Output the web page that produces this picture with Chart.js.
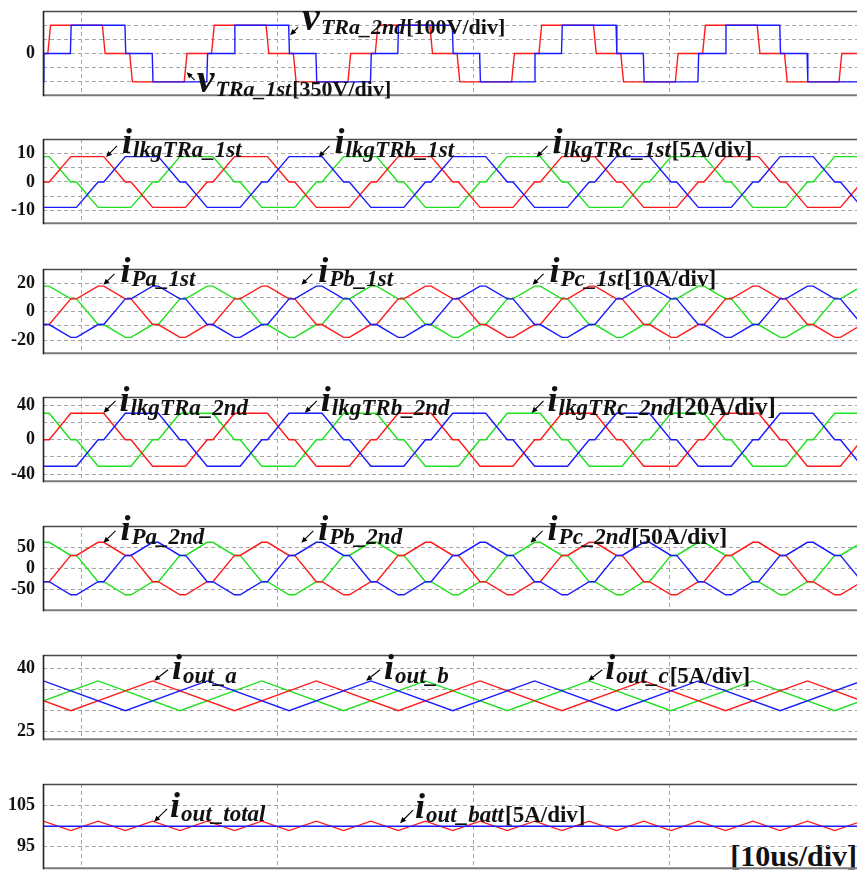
<!DOCTYPE html>
<html>
<head>
<meta charset="utf-8">
<script src="https://cdn.jsdelivr.net/npm/chart.js@4.4.1/dist/chart.umd.min.js"></script>
<style>
  html, body { margin: 0; padding: 0; background: #fff; }
  body { position: relative; width: 857px; height: 875px; overflow: hidden; }
  canvas { position: absolute; left: 0; }
  #timeDiv {
    position: absolute; right: 0; top: 839px;
    font: bold 30px "Liberation Serif", "Times New Roman", serif;
    line-height: 33px; color: #111; background: #fff; padding-left: 4px;
  }
</style>
</head>
<body>
<div id="timeDiv">[10us/div]</div>
<script>
// ---- switching instants (us): 1st-side edges interleaved with 2nd-side edges ----
const tSwitchUs = [
  -3.015, -1.915, -1.625, -0.525, -0.235, 0.865, 1.155, 2.255, 2.545, 3.645, 3.935, 5.035,
  5.325, 6.425, 6.715, 7.815, 8.105, 9.205, 9.495, 10.595, 10.885, 11.985, 12.275, 13.375,
  13.665, 14.765, 15.055, 16.155, 16.445, 17.545, 17.835, 18.935, 19.225, 20.325, 20.615, 21.715,
  22.005, 23.105, 23.395, 24.495, 24.785, 25.885, 26.175, 27.275, 27.565, 28.665, 28.955, 30.055,
  30.345, 31.445, 31.735, 32.835, 33.125, 34.225, 34.515, 35.615, 35.905, 37.005, 37.295, 38.395,
  38.685, 39.785
];

// ---- transformer voltages: edge times (us) and level after each edge (V) ----
const vTRa1stEdgeUs = [-5.795, -3.015, -1.625, 1.155, 2.545, 5.325, 6.715, 9.495, 10.885, 13.665, 15.055, 17.835,
  19.225, 22.005, 23.395, 26.175, 27.565, 30.345, 31.735, 34.515, 35.905, 38.685, 40.075];
const vTRa1stLevel = [-700, 0, 700, 0, -700, 0, 700, 0, -700, 0, 700, 0,
  -700, 0, 700, 0, -700, 0, 700, 0, -700, 0, 700];
const vTRa2ndEdgeUs = [-4.695, -1.915, -0.525, 2.255, 3.645, 6.425, 7.815, 10.595, 11.985, 14.765, 16.155, 18.935,
  20.325, 23.105, 24.495, 27.275, 28.665, 31.445, 32.835, 35.615, 37.005, 39.785];
const vTRa2ndLevel = [-200, 0, 200, 0, -200, 0, 200, 0, -200, 0, 200, 0,
  -200, 0, 200, 0, -200, 0, 200, 0, -200, 0];

// ---- leakage currents, 1st side (A) at tSwitchUs ----
const ilkgTRa1st = [-9, 0,
  0, 9, 9, 9, 9, 0, 0, -9, -9, -9, -9, 0,
  0, 9, 9, 9, 9, 0, 0, -9, -9, -9, -9, 0,
  0, 9, 9, 9, 9, 0, 0, -9, -9, -9, -9, 0,
  0, 9, 9, 9, 9, 0, 0, -9, -9, -9, -9, 0,
  0, 9, 9, 9, 9, 0, 0, -9, -9, -9, -9, 0];
const ilkgTRb1st = [0, -9,
  -9, -9, -9, 0, 0, 9, 9, 9, 9, 0, 0, -9,
  -9, -9, -9, 0, 0, 9, 9, 9, 9, 0, 0, -9,
  -9, -9, -9, 0, 0, 9, 9, 9, 9, 0, 0, -9,
  -9, -9, -9, 0, 0, 9, 9, 9, 9, 0, 0, -9,
  -9, -9, -9, 0, 0, 9, 9, 9, 9, 0, 0, -9];
const ilkgTRc1st = [9, 9,
  9, 0, 0, -9, -9, -9, -9, 0, 0, 9, 9, 9,
  9, 0, 0, -9, -9, -9, -9, 0, 0, 9, 9, 9,
  9, 0, 0, -9, -9, -9, -9, 0, 0, 9, 9, 9,
  9, 0, 0, -9, -9, -9, -9, 0, 0, 9, 9, 9,
  9, 0, 0, -9, -9, -9, -9, 0, 0, 9, 9, 9];

// ---- primary phase currents, 1st side (A) ----
const iPa1st = [-18, -9,
  -9, 9, 9, 18, 18, 9, 9, -9, -9, -18, -18, -9,
  -9, 9, 9, 18, 18, 9, 9, -9, -9, -18, -18, -9,
  -9, 9, 9, 18, 18, 9, 9, -9, -9, -18, -18, -9,
  -9, 9, 9, 18, 18, 9, 9, -9, -9, -18, -18, -9,
  -9, 9, 9, 18, 18, 9, 9, -9, -9, -18, -18, -9];
const iPb1st = [9, -9,
  -9, -18, -18, -9, -9, 9, 9, 18, 18, 9, 9, -9,
  -9, -18, -18, -9, -9, 9, 9, 18, 18, 9, 9, -9,
  -9, -18, -18, -9, -9, 9, 9, 18, 18, 9, 9, -9,
  -9, -18, -18, -9, -9, 9, 9, 18, 18, 9, 9, -9,
  -9, -18, -18, -9, -9, 9, 9, 18, 18, 9, 9, -9];
const iPc1st = [9, 18,
  18, 9, 9, -9, -9, -18, -18, -9, -9, 9, 9, 18,
  18, 9, 9, -9, -9, -18, -18, -9, -9, 9, 9, 18,
  18, 9, 9, -9, -9, -18, -18, -9, -9, 9, 9, 18,
  18, 9, 9, -9, -9, -18, -18, -9, -9, 9, 9, 18,
  18, 9, 9, -9, -9, -18, -18, -9, -9, 9, 9, 18];

// ---- leakage currents, 2nd side (A) ----
const ilkgTRa2nd = [-31, 0,
  0, 31, 31, 31, 31, 0, 0, -31, -31, -31, -31, 0,
  0, 31, 31, 31, 31, 0, 0, -31, -31, -31, -31, 0,
  0, 31, 31, 31, 31, 0, 0, -31, -31, -31, -31, 0,
  0, 31, 31, 31, 31, 0, 0, -31, -31, -31, -31, 0,
  0, 31, 31, 31, 31, 0, 0, -31, -31, -31, -31, 0];
const ilkgTRb2nd = [0, -31,
  -31, -31, -31, 0, 0, 31, 31, 31, 31, 0, 0, -31,
  -31, -31, -31, 0, 0, 31, 31, 31, 31, 0, 0, -31,
  -31, -31, -31, 0, 0, 31, 31, 31, 31, 0, 0, -31,
  -31, -31, -31, 0, 0, 31, 31, 31, 31, 0, 0, -31,
  -31, -31, -31, 0, 0, 31, 31, 31, 31, 0, 0, -31];
const ilkgTRc2nd = [31, 31,
  31, 0, 0, -31, -31, -31, -31, 0, 0, 31, 31, 31,
  31, 0, 0, -31, -31, -31, -31, 0, 0, 31, 31, 31,
  31, 0, 0, -31, -31, -31, -31, 0, 0, 31, 31, 31,
  31, 0, 0, -31, -31, -31, -31, 0, 0, 31, 31, 31,
  31, 0, 0, -31, -31, -31, -31, 0, 0, 31, 31, 31];

// ---- primary phase currents, 2nd side (A) ----
const iPa2nd = [-63, -31.5,
  -31.5, 31.5, 31.5, 63, 63, 31.5, 31.5, -31.5, -31.5, -63, -63, -31.5,
  -31.5, 31.5, 31.5, 63, 63, 31.5, 31.5, -31.5, -31.5, -63, -63, -31.5,
  -31.5, 31.5, 31.5, 63, 63, 31.5, 31.5, -31.5, -31.5, -63, -63, -31.5,
  -31.5, 31.5, 31.5, 63, 63, 31.5, 31.5, -31.5, -31.5, -63, -63, -31.5,
  -31.5, 31.5, 31.5, 63, 63, 31.5, 31.5, -31.5, -31.5, -63, -63, -31.5];
const iPb2nd = [31.5, -31.5,
  -31.5, -63, -63, -31.5, -31.5, 31.5, 31.5, 63, 63, 31.5, 31.5, -31.5,
  -31.5, -63, -63, -31.5, -31.5, 31.5, 31.5, 63, 63, 31.5, 31.5, -31.5,
  -31.5, -63, -63, -31.5, -31.5, 31.5, 31.5, 63, 63, 31.5, 31.5, -31.5,
  -31.5, -63, -63, -31.5, -31.5, 31.5, 31.5, 63, 63, 31.5, 31.5, -31.5,
  -31.5, -63, -63, -31.5, -31.5, 31.5, 31.5, 63, 63, 31.5, 31.5, -31.5];
const iPc2nd = [31.5, 63,
  63, 31.5, 31.5, -31.5, -31.5, -63, -63, -31.5, -31.5, 31.5, 31.5, 63,
  63, 31.5, 31.5, -31.5, -31.5, -63, -63, -31.5, -31.5, 31.5, 31.5, 63,
  63, 31.5, 31.5, -31.5, -31.5, -63, -63, -31.5, -31.5, 31.5, 31.5, 63,
  63, 31.5, 31.5, -31.5, -31.5, -63, -63, -31.5, -31.5, 31.5, 31.5, 63,
  63, 31.5, 31.5, -31.5, -31.5, -63, -63, -31.5, -31.5, 31.5, 31.5, 63];

// ---- output-side instants (us) and currents (A); null = no corner there ----
const tOutUs = [-6.085, -4.695, -3.305, -1.915, -0.525, 0.865, 2.255, 3.645, 5.035, 6.425, 7.815, 9.205,
  10.595, 11.985, 13.375, 14.765, 16.155, 17.545, 18.935, 20.325, 21.715, 23.105, 24.495, 25.885,
  27.275, 28.665, 30.055, 31.445, 32.835, 34.225, 35.615, 37.005, 38.395, 39.785, 41.175, 42.565];
const ioutA = [null, 37.0, null, null, 29.9, null, null, 37.0, null, null, 29.9, null,
  null, 37.0, null, null, 29.9, null, null, 37.0, null, null, 29.9, null,
  null, 37.0, null, null, 29.9, null, null, 37.0, null, null, 29.9, null];
const ioutB = [29.9, null, null, 37.0, null, null, 29.9, null, null, 37.0, null, null,
  29.9, null, null, 37.0, null, null, 29.9, null, null, 37.0, null, null,
  29.9, null, null, 37.0, null, null, 29.9, null, null, 37.0, null, null];
const ioutC = [null, null, 29.9, null, null, 37.0, null, null, 29.9, null, null, 37.0,
  null, null, 29.9, null, null, 37.0, null, null, 29.9, null, null, 37.0,
  null, null, 29.9, null, null, 37.0, null, null, 29.9, null, null, 37.0];
const ioutTotal = [98.8, 101.1, 98.8, 101.1, 98.8, 101.1, 98.8, 101.1, 98.8, 101.1, 98.8, 101.1,
  98.8, 101.1, 98.8, 101.1, 98.8, 101.1, 98.8, 101.1, 98.8, 101.1, 98.8, 101.1,
  98.8, 101.1, 98.8, 101.1, 98.8, 101.1, 98.8, 101.1, 98.8, 101.1, 98.8, 101.1];
const ioutBatt = [99.85, 99.85, 99.85, 99.85, 99.85, 99.85, 99.85, 99.85, 99.85, 99.85, 99.85, 99.85,
  99.85, 99.85, 99.85, 99.85, 99.85, 99.85, 99.85, 99.85, 99.85, 99.85, 99.85, 99.85,
  99.85, 99.85, 99.85, 99.85, 99.85, 99.85, 99.85, 99.85, 99.85, 99.85, 99.85, 99.85];

// ---- axis grids and tick labels ----
const timeGridUs = [0, 10, 20, 30];
const TIME_MIN_US = -1.94, TIME_MAX_US = 39.53;

// ---- layout / style ----
const CANVAS_W = 857, PLOT_H = 95, PAD_T = 28, PAD_B = 8, AXIS_W = 43;
const RED = '#ff1a1a', BLUE = '#1a1aff', GREEN = '#1ee01e';
const LINE_W = 1.4;
const GRID_COLOR = '#a6a6a6';
const FONT = '"Liberation Serif", "Times New Roman", serif';

function pts(ts, vs) {
  const out = [];
  ts.forEach((t, i) => { if (vs[i] !== null) out.push({ x: t, y: vs[i] }); });
  return out;
}
// square wave with a finite edge ramp (us)
function edgePts(edges, levels, ramp) {
  const out = [{ x: edges[0], y: levels[0] }];
  for (let i = 1; i < edges.length; i++) {
    out.push({ x: edges[i] - ramp / 2, y: levels[i - 1] });
    out.push({ x: edges[i] + ramp / 2, y: levels[i] });
  }
  return out;
}
function ds(data, color, order, axis) {
  return { data, borderColor: color, borderWidth: LINE_W, pointRadius: 0, showLine: true,
    tension: 0, order, yAxisID: axis || 'y' };
}

const framePlugin = {
  id: 'frame',
  afterDatasetsDraw(chart) {
    const { left, top, right, bottom } = chart.chartArea;
    const ctx = chart.ctx;
    ctx.save();
    ctx.lineWidth = 1.5; ctx.strokeStyle = '#4a4a4a';
    ctx.beginPath(); ctx.moveTo(left, top + 0.5); ctx.lineTo(right + 2, top + 0.5); ctx.stroke();
    ctx.lineWidth = 2; ctx.strokeStyle = '#7a7a7a';
    ctx.beginPath(); ctx.moveTo(left, bottom); ctx.lineTo(right + 2, bottom); ctx.stroke();
    ctx.lineWidth = 1.6; ctx.strokeStyle = '#222';
    ctx.beginPath(); ctx.moveTo(left + 0.5, top); ctx.lineTo(left + 0.5, bottom + 1); ctx.stroke();
    ctx.restore();
  }
};

const waveLabelPlugin = {
  id: 'waveLabels',
  afterDraw(chart, args, opts) {
    const ctx = chart.ctx;
    (opts.items || []).forEach(it => {
      const px = chart.scales.x.getPixelForValue(it.t);
      const py = chart.scales[it.axis || 'y'].getPixelForValue(it.v);
      const tx = px + it.tail[0], ty = py + it.tail[1];
      const ang = Math.atan2(py - ty, px - tx), hl = 6.5, hw = 0.42;
      const subSize = it.subSize || opts.subSize;
      ctx.save();
      ctx.strokeStyle = '#000'; ctx.fillStyle = '#000'; ctx.lineWidth = 1.1;
      ctx.beginPath(); ctx.moveTo(tx, ty);
      ctx.lineTo(px - Math.cos(ang) * hl * 0.8, py - Math.sin(ang) * hl * 0.8); ctx.stroke();
      ctx.beginPath(); ctx.moveTo(px, py);
      ctx.lineTo(px - hl * Math.cos(ang - hw), py - hl * Math.sin(ang - hw));
      ctx.lineTo(px - hl * Math.cos(ang + hw), py - hl * Math.sin(ang + hw));
      ctx.closePath(); ctx.fill();
      let x = px + it.dx;
      const yb = py + it.dy;
      ctx.textAlign = 'left'; ctx.textBaseline = 'alphabetic'; ctx.fillStyle = '#111';
      ctx.font = 'italic bold ' + (it.mainSize || opts.mainSize) + 'px ' + FONT;
      ctx.fillText(it.main, x, yb);
      x += ctx.measureText(it.main).width + 1;
      ctx.font = 'italic bold ' + subSize + 'px ' + FONT;
      ctx.fillText(it.sub, x, yb + opts.subDrop);
      x += ctx.measureText(it.sub).width + 1;
      if (it.unit) {
        ctx.font = 'bold ' + (it.unitSize || subSize) + 'px ' + FONT;
        ctx.fillText(it.unit, x, yb + opts.subDrop);
      }
      ctx.restore();
    });
  }
};

function makePanel(p) {
  const cv = document.createElement('canvas');
  cv.width = CANVAS_W; cv.height = PLOT_H + PAD_T + PAD_B;
  cv.style.top = (p.top - PAD_T) + 'px';
  cv.style.width = CANVAS_W + 'px'; cv.style.height = cv.height + 'px';
  document.body.appendChild(cv);
  const scales = {
    x: {
      type: 'linear', min: TIME_MIN_US, max: TIME_MAX_US,
      afterBuildTicks: s => { s.ticks = timeGridUs.map(v => ({ value: v })); },
      afterFit: s => { s.height = 0; },
      grid: { color: GRID_COLOR, lineWidth: 1, drawTicks: false },
      border: { display: false, dash: [4, 3] },
      ticks: { display: false }
    },
    y: {
      type: 'linear', min: p.yRange[0], max: p.yRange[1],
      afterBuildTicks: s => { s.ticks = p.grid.map(v => ({ value: v })); },
      afterFit: s => { s.width = AXIS_W; },
      grid: { color: GRID_COLOR, lineWidth: 1, drawTicks: false },
      border: { display: false, dash: [4, 3] },
      ticks: {
        autoSkip: false, padding: 8, color: '#111',
        font: { family: FONT, size: 18, weight: 'bold' },
        callback: v => (p.labels.includes(v) ? String(v) : '')
      }
    }
  };
  if (p.y2Range) scales.y2 = { type: 'linear', display: false, min: p.y2Range[0], max: p.y2Range[1] };
  new Chart(cv, {
    type: 'scatter',
    data: { datasets: p.datasets },
    options: {
      responsive: false, animation: false, events: [],
      layout: { padding: { top: PAD_T, bottom: PAD_B, left: 0, right: 0 } },
      plugins: {
        legend: { display: false }, tooltip: { enabled: false },
        waveLabels: { items: p.notes, mainSize: 36, subSize: 23, subDrop: 4 }
      },
      scales
    },
    plugins: [framePlugin, waveLabelPlugin]
  });
}

const panels = [
  {
    top: 11, yRange: [-1028, 1050], y2Range: [-293.75, 300],
    grid: [-700, -350, 0, 350, 700], labels: [0],
    datasets: [
      ds(edgePts(vTRa2ndEdgeUs, vTRa2ndLevel, 0.04), BLUE, 0, 'y2'),
      ds(edgePts(vTRa1stEdgeUs, vTRa1stLevel, 0.14), RED, 1)
    ],
    notes: [
      { t: 10.65, v: 453, tail: [8, -8], dx: 12, dy: -5, main: 'v', mainSize: 40, subSize: 22, sub: 'TRa_2nd', unit: '[100V/div]' },
      { t: 5.38, v: -459, tail: [8, 8], dx: 10, dy: 20, main: 'v', mainSize: 40, subSize: 22, sub: 'TRa_1st', unit: '[350V/div]' }
    ]
  },
  {
    top: 139, yRange: [-14.62, 15.25], grid: [-10, -5, 0, 5, 10], labels: [-10, 0, 10],
    datasets: [
      ds(pts(tSwitchUs, ilkgTRb1st), BLUE, 0),
      ds(pts(tSwitchUs, ilkgTRa1st), RED, 1),
      ds(pts(tSwitchUs, ilkgTRc1st), GREEN, 2)
    ],
    notes: [
      { t: 1.27, v: 8.87, tail: [11, -11], dx: 16, dy: -4, main: 'i', sub: 'lkgTRa_1st' },
      { t: 12.1, v: 8.87, tail: [11, -11], dx: 16, dy: -4, main: 'i', sub: 'lkgTRb_1st' },
      { t: 23.2, v: 8.87, tail: [11, -11], dx: 16, dy: -4, main: 'i', sub: 'lkgTRc_1st', unit: '[5A/div]' }
    ]
  },
  {
    top: 269, yRange: [-29.1, 30.0], grid: [-20, -10, 0, 10, 20], labels: [-20, 0, 20],
    datasets: [
      ds(pts(tSwitchUs, iPb1st), BLUE, 0),
      ds(pts(tSwitchUs, iPa1st), RED, 1),
      ds(pts(tSwitchUs, iPc1st), GREEN, 2)
    ],
    notes: [
      { t: 1.14, v: 18.87, tail: [11, -11], dx: 17, dy: -3, main: 'i', sub: 'Pa_1st' },
      { t: 11.22, v: 18.87, tail: [11, -11], dx: 17, dy: -3, main: 'i', sub: 'Pb_1st' },
      { t: 23.0, v: 18.87, tail: [11, -11], dx: 17, dy: -3, main: 'i', sub: 'Pc_1st', unit: '[10A/div]' }
    ]
  },
  {
    top: 397, yRange: [-48.4, 50.0], grid: [-40, -20, 0, 20, 40], labels: [-40, 0, 40],
    datasets: [
      ds(pts(tSwitchUs, ilkgTRb2nd), BLUE, 0),
      ds(pts(tSwitchUs, ilkgTRa2nd), RED, 1),
      ds(pts(tSwitchUs, ilkgTRc2nd), GREEN, 2)
    ],
    notes: [
      { t: 1.14, v: 31.4, tail: [12, -12], dx: 16, dy: -2, main: 'i', sub: 'lkgTRa_2nd' },
      { t: 11.4, v: 31.4, tail: [12, -12], dx: 16, dy: -2, main: 'i', sub: 'lkgTRb_2nd' },
      { t: 22.95, v: 31.4, tail: [12, -12], dx: 16, dy: -2, main: 'i', sub: 'lkgTRc_2nd', unit: '[20A/div]', unitSize: 25 }
    ]
  },
  {
    top: 526, yRange: [-99.9, 102.1], grid: [-50, 0, 50], labels: [-50, 0, 50],
    datasets: [
      ds(pts(tSwitchUs, iPb2nd), BLUE, 0),
      ds(pts(tSwitchUs, iPa2nd), RED, 1),
      ds(pts(tSwitchUs, iPc2nd), GREEN, 2)
    ],
    notes: [
      { t: 1.14, v: 61.7, tail: [12, -12], dx: 17, dy: -3, main: 'i', sub: 'Pa_2nd' },
      { t: 11.22, v: 61.7, tail: [12, -12], dx: 17, dy: -3, main: 'i', sub: 'Pb_2nd' },
      { t: 22.9, v: 61.7, tail: [12, -12], dx: 17, dy: -3, main: 'i', sub: 'Pc_2nd', unit: '[50A/div]', unitSize: 24 }
    ]
  },
  {
    top: 655, yRange: [23.1, 43.17], grid: [25, 30, 35, 40], labels: [25, 40],
    datasets: [
      ds(pts(tOutUs, ioutB), BLUE, 0),
      ds(pts(tOutUs, ioutA), RED, 1),
      ds(pts(tOutUs, ioutC), GREEN, 2)
    ],
    notes: [
      { t: 3.72, v: 37.04, tail: [14, -11], dx: 18, dy: -2, main: 'i', sub: 'out_a' },
      { t: 14.52, v: 37.04, tail: [14, -11], dx: 18, dy: -2, main: 'i', sub: 'out_b' },
      { t: 25.84, v: 37.04, tail: [14, -11], dx: 17, dy: -2, main: 'i', sub: 'out_c', unit: '[5A/div]' }
    ]
  },
  {
    top: 784, yRange: [89.7, 110.09], grid: [95, 105], labels: [95, 105],
    datasets: [
      ds(pts(tOutUs, ioutBatt), BLUE, 0),
      ds(pts(tOutUs, ioutTotal), RED, 1)
    ],
    notes: [
      { t: 3.72, v: 100.92, tail: [13, -13], dx: 16, dy: -5, main: 'i', sub: 'out_total' },
      { t: 16.25, v: 100.6, tail: [13, -13], dx: 15, dy: -5, main: 'i', sub: 'out_batt', unit: '[5A/div]' }
    ]
  }
];

panels.forEach(makePanel);
</script>
</body>
</html>
